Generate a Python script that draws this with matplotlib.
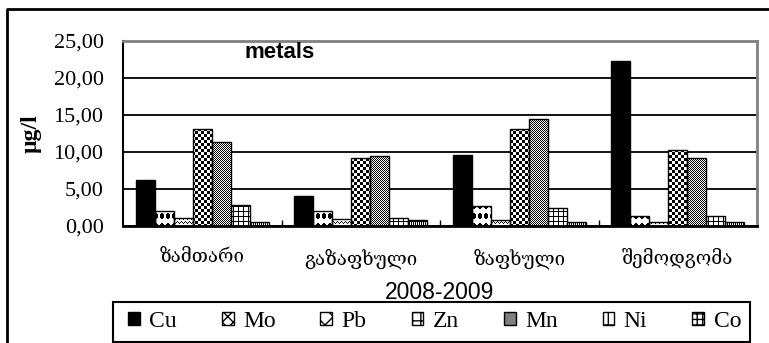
import numpy as np
import matplotlib.pyplot as plt
from matplotlib.path import Path
from matplotlib.patches import Patch, Rectangle
from matplotlib.lines import Line2D

plt.rcParams['hatch.linewidth'] = 1.0

seasons = ['ზამთარი', 'გაზაფხული', 'ზაფხული', 'შემოდგომა']
metals = ['Cu', 'Mo', 'Pb', 'Zn', 'Mn', 'Ni', 'Co']
cu = [6.2, 4.0, 9.6, 22.3]
mo = [2.0, 2.0, 2.7, 1.4]
pb = [1.1, 0.9, 0.8, 0.6]
zn = [13.1, 9.2, 13.1, 10.3]
mn = [11.4, 9.5, 14.5, 9.2]
ni = [2.8, 1.1, 2.4, 1.4]
co = [0.5, 0.8, 0.5, 0.5]
values = [cu, mo, pb, zn, mn, ni, co]
yticks = [0, 5, 10, 15, 20, 25]


# fill patterns, 1 = black pixel
def tile_diamond(w=6, h=10, k=0.85):
    r, c = np.indices((h, w))
    return (np.abs(c - (w - 1) / 2) / (w / 2) + np.abs(r - (h - 1) / 2) / (h / 2) <= k).astype(float)


def tile_checker(n):
    return np.kron([[1, 0], [0, 1]], np.ones((n, n)))


def tile_grid(w, h):
    t = np.zeros((h, w))
    t[0, :] = 1
    t[:, 0] = 1
    return t


tile_zigzag = np.array([[0, 0, 1, 0],
                        [0, 1, 0, 1],
                        [1, 0, 0, 0],
                        [0, 0, 0, 0]], dtype=float)

tiles = [None, tile_diamond(), tile_zigzag, tile_checker(3),
         tile_checker(1), tile_grid(5, 5), tile_grid(2, 4)]

fig = plt.figure(figsize=(7.69, 3.43), dpi=100)
ax = fig.add_axes([123 / 769, 117 / 343, 634 / 769, 185 / 343])
xlim = (-0.5, 3.5)
ylim = (0, 25)

bb = ax.get_window_extent()
W, H = int(round(bb.width)), int(round(bb.height))

x = np.arange(len(seasons))
w = 0.12
for j, vals in enumerate(values):
    pos = x + (j - 3) * w
    if tiles[j] is None:
        ax.bar(pos, vals, w, color='black', edgecolor='black', lw=1, zorder=3)
        continue
    bars = ax.bar(pos, vals, w, color='white', edgecolor='none', zorder=2)
    t = tiles[j]
    img = np.tile(t, (H // t.shape[0] + 1, W // t.shape[1] + 1))[:H, :W]
    im = ax.imshow(img, cmap='gray_r', vmin=0, vmax=1, extent=(*xlim, *ylim),
                   origin='upper', aspect='auto', interpolation='nearest', zorder=2.5)
    clip = Path.make_compound_path(*[b.get_patch_transform().transform_path(b.get_path())
                                     for b in bars])
    im.set_clip_path(clip, ax.transData)
    ax.bar(pos, vals, w, fill=False, edgecolor='black', lw=1, zorder=3)

ax.set_xlim(*xlim)
ax.set_ylim(*ylim)

ax.set_yticks(yticks)
ax.set_yticklabels([f'{v:.2f}'.replace('.', ',') for v in yticks],
                   family='Liberation Serif', fontsize=16)
ax.tick_params(axis='y', length=0, pad=14)
ax.yaxis.grid(True, color='black', lw=1.3)
ax.set_axisbelow(True)

ax.set_xticks(x)
ax.set_xticklabels(seasons, family=['DejaVu Serif', 'DejaVu Sans'], fontsize=13.5)
ax.tick_params(axis='x', which='major', length=0, pad=16)
ax.set_xticks([0.5, 1.5, 2.5], minor=True)
ax.tick_params(axis='x', which='minor', direction='in', length=4, width=1, color='black')

for s in ['left', 'bottom']:
    ax.spines[s].set_color('black')
ax.spines['left'].set_linewidth(1.5)
ax.spines['bottom'].set_linewidth(2)
for s in ['top', 'right']:
    ax.spines[s].set_color('#808080')
    ax.spines[s].set_linewidth(2)

fig.text(280 / 769, (343 - 53) / 343, 'metals', ha='center', va='center',
         family='Liberation Sans', weight='bold', fontsize=16)
fig.text(31 / 769, (343 - 134) / 343, 'µg/l', ha='center', va='center', rotation=90,
         family='Liberation Serif', weight='bold', fontsize=17)
fig.text(440 / 769, (343 - 299) / 343, '2008-2009', ha='center', va='baseline',
         family='Liberation Sans', fontsize=16.5)

# outer frame (left and top edges)
fig.add_artist(Line2D([7 / 769, 7 / 769, 1], [0, (343 - 9) / 343, (343 - 9) / 343],
                      transform=fig.transFigure, color='black', lw=2))

# legend box
fig.add_artist(Rectangle((113 / 769, 1.5 / 343), 637 / 769, 40 / 343,
                         transform=fig.transFigure, facecolor='white',
                         edgecolor='black', lw=1.5))

handles = [Patch(facecolor='black', edgecolor='black'),
           Patch(facecolor='white', edgecolor='black', hatch='xxx'),
           Patch(facecolor='white', edgecolor='black', hatch='xx'),
           Patch(facecolor='white', edgecolor='black', hatch='++'),
           Patch(facecolor='#808080', edgecolor='black'),
           Patch(facecolor='white', edgecolor='black', hatch='+'),
           Patch(facecolor='white', edgecolor='black', hatch='+++')]
leg = fig.legend(handles, metals, ncol=7, loc='center',
                 bbox_to_anchor=((116 + 637 / 2) / 769, 21.5 / 343),
                 frameon=False, handlelength=0.5, handleheight=0.5,
                 handletextpad=0.4, columnspacing=1.9, borderaxespad=0,
                 prop={'family': 'Liberation Serif', 'size': 17})

fig.savefig('out.png', dpi=100)
